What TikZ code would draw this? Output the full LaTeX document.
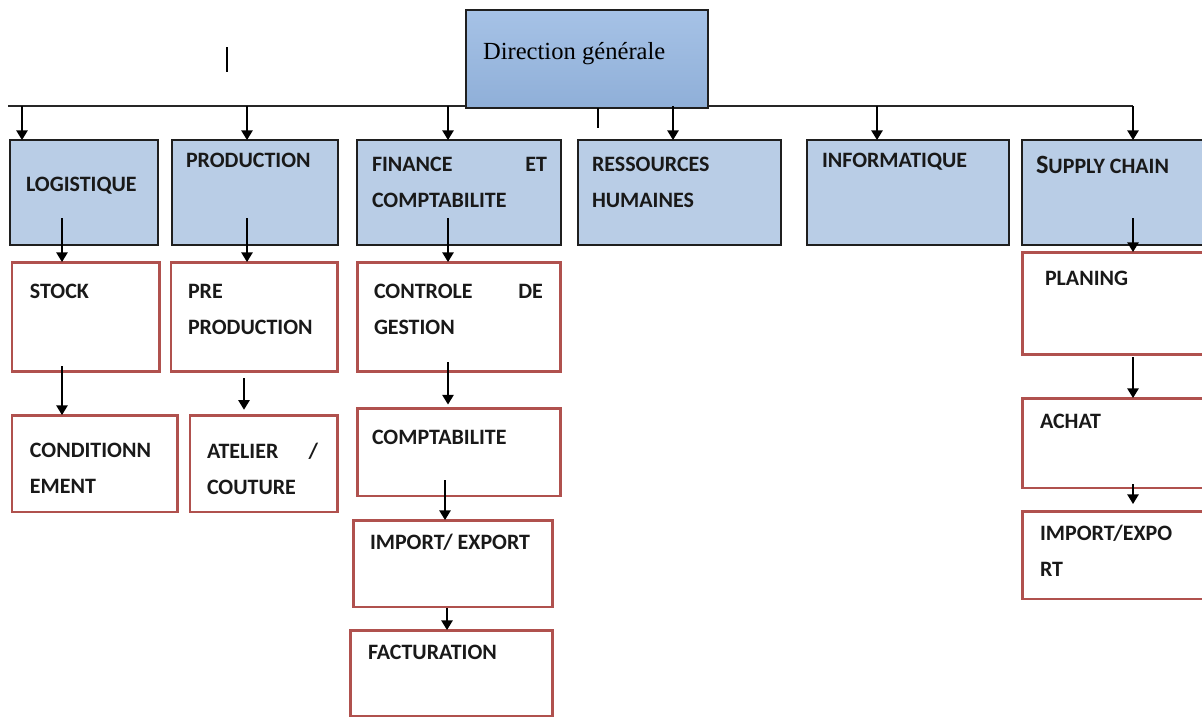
\documentclass[tikz,border=0pt]{standalone}
\usepackage{fontspec}
\newfontfamily\calib{Carlito}
\newfontfamily\tnr{Liberation Serif}
\usetikzlibrary{arrows.meta}

\definecolor{dgtop}{HTML}{A6C2E6}
\definecolor{dgbot}{HTML}{8FAFD8}
\definecolor{lblue}{HTML}{B9CDE6}
\definecolor{redline}{HTML}{B0514E}

\begin{document}
\begin{tikzpicture}[x=0.02cm, y=-0.02cm,
  every node/.style={inner sep=0pt, outer sep=0pt},
  bluebox/.style={draw=black!88, line width=1.1pt, fill=lblue, anchor=north west},
  redbox/.style={draw=redline, line width=1.7pt, fill=white, anchor=north west},
  lbl/.style={anchor=north west, align=left, text=black!90, font=\calib\bfseries\fontsize{12.5}{20.5}\selectfont},
  arr/.style={line width=0.8pt, -{Triangle[length=5.5pt,width=6.5pt]}}]
\useasboundingbox (0,0) rectangle (1202,718);
\clip (0,0) rectangle (1202,718);

% bus under the top box
\coordinate (busL) at (8,106);
\coordinate (busR) at (1133,106);
\draw[line width=1pt, black!85] (busL) -- (busR);

\node[draw=black!88, line width=1.1pt, top color=dgtop, bottom color=dgbot,
      anchor=north west, minimum width=4.84cm, minimum height=1.96cm] (dg) at (466,10) {};
\node[anchor=base west, font=\tnr\fontsize{14}{17}\selectfont] (t-dg) at (483,59) {Direction générale};

% first level
\node[bluebox, minimum width=2.96cm, minimum height=2.1cm] (log) at (10,140) {};
\node[bluebox, minimum width=3.32cm, minimum height=2.1cm] (prod) at (172,140) {};
\node[bluebox, minimum width=4.08cm, minimum height=2.1cm] (fin) at (357,140) {};
\node[bluebox, minimum width=4.06cm, minimum height=2.1cm] (rh) at (578,140) {};
\node[bluebox, minimum width=4.04cm, minimum height=2.1cm] (info) at (807,140) {};
\node[bluebox, minimum width=3.64cm, minimum height=2.1cm] (sc) at (1022,140) {};

\node[lbl] (t-log) at (26,177) {LOGISTIQUE};
\node[lbl] (t-prod) at (186,153) {PRODUCTION};
\node[lbl] (t-fin) at (372,157) {\makebox[3.5cm]{FINANCE\hfill ET}\\COMPTABILITE};
\node[lbl] (t-rh) at (592,157) {RESSOURCES\\HUMAINES};
\node[lbl] (t-info) at (822,153) {INFORMATIQUE};
\node[lbl, anchor=base west] (t-sc) at (1036,173) {{\fontsize{15}{18}\selectfont S}UPPLY CHAIN};

\coordinate (b1) at (22,106);
\coordinate (b2) at (247,106);
\coordinate (b3) at (448,106);
\coordinate (b4) at (673,106);
\coordinate (b5) at (877,106);
\draw[arr] (b1) -- (b1 |- log.north);
\draw[arr] (b2) -- (b2 |- prod.north);
\draw[arr] (b3) -- (b3 |- fin.north);
\draw[arr] (b4) -- (b4 |- rh.north);
\draw[arr] (b5) -- (b5 |- info.north);
\draw[arr] (busR) -- (busR |- sc.north);
\draw[line width=0.9pt] (598,108) -- (598,128);
\draw[line width=0.8pt] (227,47) -- (227,72);

% second level
\node[redbox, minimum width=2.96cm, minimum height=2.2cm] (stock) at (12,262) {};
\node[redbox, minimum width=3.34cm, minimum height=2.2cm] (pre) at (171,262) {};
\node[redbox, minimum width=4.08cm, minimum height=2.2cm] (cg) at (357,262) {};
\node[redbox, minimum width=3.64cm, minimum height=2.06cm] (plan) at (1022,252) {};

\node[lbl] (t-stock) at (30,284) {STOCK};
\node[lbl] (t-pre) at (188,284) {PRE\\PRODUCTION};
\node[lbl] (t-cg) at (374,284) {\makebox[3.38cm]{CONTROLE\hfill DE}\\GESTION};
\node[lbl] (t-plan) at (1045,271) {PLANING};

\coordinate (c1) at (62,218);
\coordinate (c2) at (247,218);
\coordinate (c3) at (448,218);
\coordinate (c4) at (1133,218);
\draw[arr] (c1) -- (c1 |- stock.north);
\draw[arr] (c2) -- (c2 |- pre.north);
\draw[arr] (c3) -- (c3 |- cg.north);
\draw[arr] (c4) -- (c4 |- plan.north);

% third level
\node[redbox, minimum width=3.32cm, minimum height=1.94cm] (cond) at (12,415) {};
\node[redbox, minimum width=2.96cm, minimum height=1.94cm] (atel) at (190,415) {};
\node[redbox, minimum width=4.08cm, minimum height=1.76cm] (compta) at (357,408) {};
\node[redbox, minimum width=3.64cm, minimum height=1.8cm] (achat) at (1022,398) {};

\node[lbl] (t-cond) at (30,443) {CONDITIONN\\EMENT};
\node[lbl] (t-atel) at (207,443) {\makebox[2.22cm]{ATELIER\hfill /}\\COUTURE};
\node[lbl] (t-compta) at (372,430) {COMPTABILITE};
\node[lbl] (t-achat) at (1040,414) {ACHAT};

\coordinate (d1) at (62,366);
\coordinate (d2) at (244,378);
\coordinate (d3) at (448,362);
\coordinate (d4) at (1133,357);
\draw[arr] (d1) -- (d1 |- cond.north);
\draw[arr] (d2) -- ([yshift=3pt]d2 |- atel.north);
\draw[arr] (d3) -- ([yshift=2pt]d3 |- compta.north);
\draw[arr] (d4) -- (d4 |- achat.north);

% fourth and fifth level
\node[redbox, minimum width=4cm, minimum height=1.74cm] (impf) at (353,520) {};
\node[redbox, minimum width=3.64cm, minimum height=1.76cm] (imps) at (1022,511) {};
\node[redbox, minimum width=4.06cm, minimum height=1.72cm] (fact) at (350,630) {};

\node[lbl] (t-impf) at (370,534) {IMPORT/ EXPORT};
\node[lbl] (t-imps) at (1040,525) {IMPORT/EXPO\\RT};
\node[lbl] (t-fact) at (368,645) {FACTURATION};

\coordinate (e1) at (445,480);
\coordinate (e2) at (1133,484);
\coordinate (e3) at (447,608);
\draw[arr] (e1) -- (e1 |- impf.north);
\draw[arr] (e2) -- ([yshift=4pt]e2 |- imps.north);
\draw[arr] (e3) -- (e3 |- fact.north);
\end{tikzpicture}
\end{document}
